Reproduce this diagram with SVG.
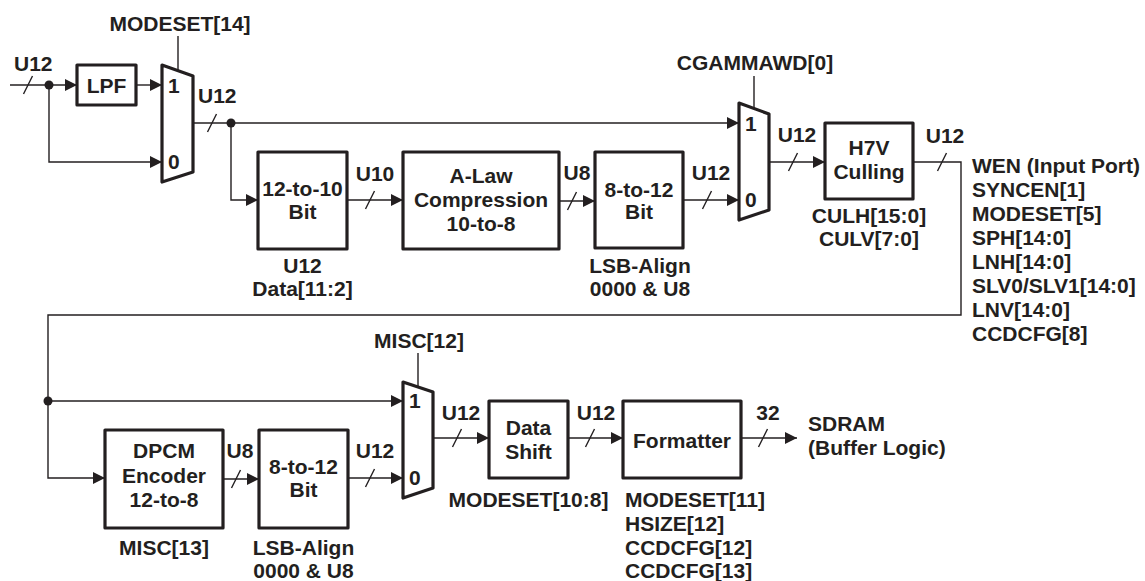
<svg xmlns="http://www.w3.org/2000/svg" width="1145" height="581" viewBox="0 0 1145 581">
<defs>
<marker id="arr" markerWidth="12" markerHeight="12" refX="12" refY="6" orient="auto" markerUnits="userSpaceOnUse"><path d="M0,0 L12,6 L0,12 z" fill="#231f20"/></marker>
<style>
text{font-family:"Liberation Sans",Arial,Helvetica,sans-serif;font-weight:bold;font-size:21px;fill:#231f20}
.c{text-anchor:middle}
.box{fill:#fff;stroke:#231f20;stroke-width:3.2;stroke-linejoin:round}
.ln{fill:none;stroke:#231f20;stroke-width:1.4}
.a{marker-end:url(#arr)}
.dot{fill:#231f20}
</style>
</defs>
<rect width="1145" height="581" fill="#fff"/>
<g id="connectors">
<path class="ln a" d="M10,85 H77"/>
<path class="ln" d="M23.5,94 L32.5,76"/>
<path class="ln a" d="M136,85 H162"/>
<path class="ln a" d="M49,85 V162 H162"/>
<circle class="dot" cx="49" cy="85" r="4.5"/>
<path class="ln" d="M178,36 V70"/>
<path class="ln a" d="M193,123 H739"/>
<path class="ln" d="M207.5,132 L216.5,114"/>
<circle class="dot" cx="231" cy="123" r="4.5"/>
<path class="ln a" d="M231,123 V200 H258"/>
<path class="ln a" d="M347,200 H403"/>
<path class="ln" d="M365.5,209 L374.5,191"/>
<path class="ln a" d="M559,201 H595"/>
<path class="ln" d="M567.5,210 L576.5,192"/>
<path class="ln a" d="M683,200 H739"/>
<path class="ln" d="M702.5,209 L711.5,191"/>
<path class="ln" d="M754,76 V108"/>
<path class="ln a" d="M769,162 H825"/>
<path class="ln" d="M788.5,171 L797.5,153"/>
<path class="ln a" d="M913,162 H961 V315 H48 V478 H105"/>
<path class="ln" d="M937.5,171 L946.5,153"/>
<circle class="dot" cx="48" cy="401" r="4.5"/>
<path class="ln a" d="M48,401 H403"/>
<path class="ln a" d="M223,479 H259"/>
<path class="ln" d="M231.5,488 L240.5,470"/>
<path class="ln a" d="M348,478 H403"/>
<path class="ln" d="M365.5,487 L374.5,469"/>
<path class="ln" d="M418,353 V387"/>
<path class="ln a" d="M433,438 H489"/>
<path class="ln" d="M452.5,447 L461.5,429"/>
<path class="ln a" d="M568,438 H623"/>
<path class="ln" d="M585.5,447 L594.5,429"/>
<path class="ln a" d="M741,438 H797"/>
<path class="ln" d="M758.5,447 L767.5,429"/>
</g>
<g id="input-label"><text x="14" y="71">U12</text></g>
<g id="lpf"><rect class="box" x="77" y="65" width="59" height="40"/><text class="c" x="106.5" y="93">LPF</text></g>
<g id="mux1"><polygon class="box" points="162,65 193,76 193,172 162,182"/><text x="168" y="93">1</text><text x="168" y="169">0</text><text class="c" x="180" y="31">MODESET[14]</text><text x="198" y="103">U12</text></g>
<g id="bit12to10"><rect class="box" x="258" y="152" width="89" height="97"/><text class="c" x="302.5" y="196">12-to-10</text><text class="c" x="302.5" y="219">Bit</text><text class="c" x="302.5" y="273">U12</text><text class="c" x="302.5" y="296">Data[11:2]</text><text class="c" x="375" y="181">U10</text></g>
<g id="alaw"><rect class="box" x="403" y="152" width="156" height="97"/><text class="c" x="481" y="183">A-Law</text><text class="c" x="481" y="207">Compression</text><text class="c" x="481" y="231">10-to-8</text><text class="c" x="577" y="180">U8</text></g>
<g id="bit8to12a"><rect class="box" x="595" y="152" width="88" height="96"/><text class="c" x="639" y="197">8-to-12</text><text class="c" x="639" y="219">Bit</text><text class="c" x="640" y="273">LSB-Align</text><text class="c" x="640" y="296">0000 &amp; U8</text><text class="c" x="711" y="180">U12</text></g>
<g id="mux2"><polygon class="box" points="739,103 769,114 769,210 739,220"/><text x="745" y="131">1</text><text x="745" y="207">0</text><text class="c" x="755" y="70">CGAMMAWD[0]</text><text class="c" x="797" y="142">U12</text></g>
<g id="h7v"><rect class="box" x="825" y="123" width="88" height="76"/><text class="c" x="869" y="155">H7V</text><text class="c" x="869" y="179">Culling</text><text class="c" x="869" y="223">CULH[15:0]</text><text class="c" x="869" y="246">CULV[7:0]</text><text class="c" x="945" y="143">U12</text></g>
<g id="regs"><text x="972" y="173">WEN (Input Port)</text><text x="972" y="197">SYNCEN[1]</text><text x="972" y="221">MODESET[5]</text><text x="972" y="245">SPH[14:0]</text><text x="972" y="269">LNH[14:0]</text><text x="972" y="293">SLV0/SLV1[14:0]</text><text x="972" y="317">LNV[14:0]</text><text x="972" y="341">CCDCFG[8]</text></g>
<g id="dpcm"><rect class="box" x="105" y="430" width="118" height="98"/><text class="c" x="164" y="458">DPCM</text><text class="c" x="164" y="483">Encoder</text><text class="c" x="164" y="507">12-to-8</text><text class="c" x="164" y="555">MISC[13]</text><text class="c" x="240" y="458">U8</text></g>
<g id="bit8to12b"><rect class="box" x="259" y="430" width="89" height="98"/><text class="c" x="303.5" y="474">8-to-12</text><text class="c" x="303.5" y="497">Bit</text><text class="c" x="303.5" y="555">LSB-Align</text><text class="c" x="303.5" y="578">0000 &amp; U8</text><text class="c" x="375" y="458">U12</text></g>
<g id="mux3"><polygon class="box" points="403,382 433,392 433,488 403,498"/><text x="409" y="408">1</text><text x="409" y="485">0</text><text class="c" x="419" y="348">MISC[12]</text><text class="c" x="461" y="420">U12</text></g>
<g id="datashift"><rect class="box" x="489" y="401" width="79" height="77"/><text class="c" x="528.5" y="435">Data</text><text class="c" x="528.5" y="459">Shift</text><text class="c" x="528.5" y="507">MODESET[10:8]</text><text class="c" x="596" y="420">U12</text></g>
<g id="formatter"><rect class="box" x="623" y="401" width="118" height="77"/><text class="c" x="682" y="448">Formatter</text><text x="625" y="507">MODESET[11]</text><text x="625" y="531">HSIZE[12]</text><text x="625" y="555">CCDCFG[12]</text><text x="625" y="578">CCDCFG[13]</text><text class="c" x="768" y="420">32</text></g>
<g id="sdram"><text x="808" y="431">SDRAM</text><text x="808" y="455">(Buffer Logic)</text></g>
</svg>
